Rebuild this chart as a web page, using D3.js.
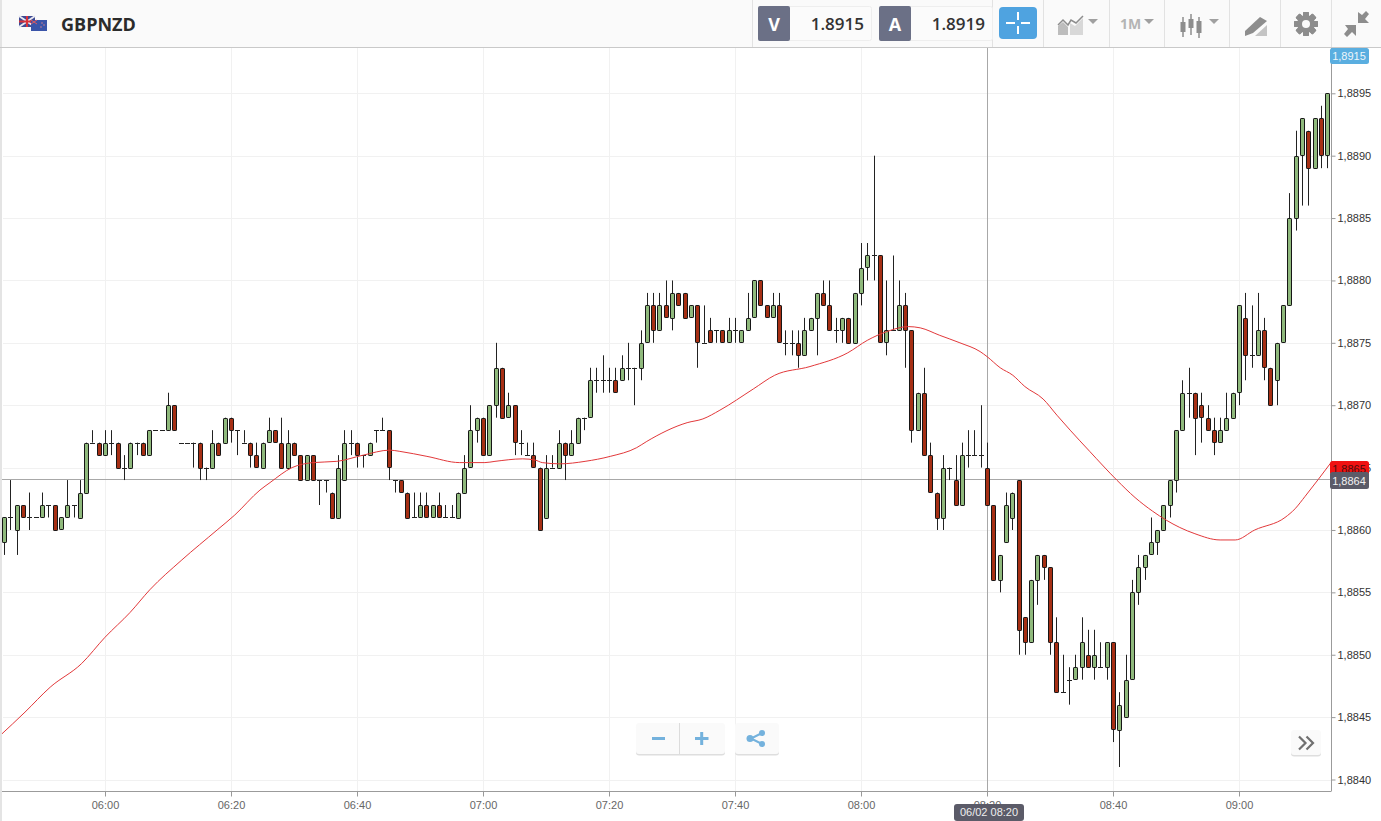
<!DOCTYPE html>
<html>
<head>
<meta charset="utf-8">
<title>GBPNZD</title>
<script src="https://cdnjs.cloudflare.com/ajax/libs/d3/7.8.5/d3.min.js"></script>
<style>
  html, body { margin: 0; padding: 0; background: #fff; overflow: hidden; }
  svg { display: block; }
  .price text { font: 11px "Liberation Sans", Arial, sans-serif; fill: #333; }
  .time text { font: 11px "Liberation Sans", Arial, sans-serif; fill: #666; }
</style>
</head>
<body>
<svg id="chart" width="1381" height="821"></svg>
<script>
// one candle per minute, first one at 05:44. prices are last 4 digits: 8859 = 1.8859
var firstCandle = new Date(2016, 1, 6, 5, 44);

var opens = [
  8859,8861,8860,8862,8861,8861,8861,8862,8862,8860,
  8861,8862,8861,8863,8867,8867,8866,8867,8867,8865,
  8865,8867,8867,8866,8868,8868,8868,8870,8867,8867,
  8867,8867,8865,8865,8867,8867,8869,8868,8867,8867,
  8866,8865,8867,8868,8867,8865,8867,8866,8864,8866,
  8864,8864,8863,8861,8864,8867,8867,8866,8866,8868,
  8868,8868,8864,8864,8863,8861,8861,8862,8861,8862,
  8861,8861,8861,8863,8865,8868,8869,8866,8870,8873,
  8869,8870,8867,8866,8866,8865,8861,8865,8865,8867,
  8866,8867,8869,8869,8872,8872,8872,8872,8872,8873,
  8873,8873,8875,8878,8876,8878,8877,8879,8879,8877,
  8878,8875,8876,8876,8876,8875,8876,8875,8876,8877,
  8880,8878,8877,8878,8875,8875,8875,8874,8876,8877,
  8879,8878,8876,8876,8877,8875,8879,8881,8882,8882,
  8875,8876,8876,8878,8876,8868,8871,8866,8863,8861,
  8865,8864,8862,8866,8866,8866,8865,8862,8856,8859,
  8861,8864,8853,8851,8856,8858,8857,8851,8847,8848,
  8848,8849,8850,8849,8849,8849,8851,8844,8845,8848,
  8855,8857,8858,8859,8860,8862,8864,8868,8871,8871,
  8870,8869,8868,8867,8868,8869,8871,8877,8874,8874,
  8876,8873,8872,8875,8878,8885,8890,8892,8889,8893,
  8890
];
var highs = [
  8861,8864,8862,8862,8863,8861,8863,8862,8862,8861,
  8864,8862,8864,8867,8868,8867,8868,8868,8867,8866,
  8867,8867,8867,8868,8868,8868,8871,8870,8867,8867,
  8867,8867,8865,8868,8867,8869,8869,8868,8868,8867,
  8867,8867,8869,8868,8869,8868,8867,8866,8866,8866,
  8864,8864,8863,8866,8868,8868,8867,8866,8867,8868,
  8869,8868,8864,8864,8863,8863,8863,8863,8862,8863,
  8862,8862,8863,8866,8870,8869,8869,8870,8875,8873,
  8871,8870,8868,8867,8867,8865,8866,8866,8868,8867,
  8868,8869,8869,8873,8873,8874,8873,8873,8874,8875,
  8873,8876,8879,8879,8879,8880,8880,8879,8879,8878,
  8878,8878,8877,8876,8876,8877,8877,8876,8879,8880,
  8880,8878,8879,8879,8876,8876,8876,8877,8877,8879,
  8880,8880,8877,8877,8877,8879,8883,8883,8890,8882,
  8880,8882,8880,8879,8876,8871,8873,8867,8863,8866,
  8865,8866,8867,8868,8868,8870,8867,8862,8858,8863,
  8863,8864,8853,8856,8858,8858,8857,8853,8850,8849,
  8850,8853,8852,8852,8851,8851,8851,8847,8850,8856,
  8858,8858,8861,8860,8862,8864,8868,8872,8873,8871,
  8871,8870,8869,8869,8871,8871,8878,8879,8878,8879,
  8877,8873,8875,8878,8887,8892,8893,8892,8893,8894,
  8895
];
var lows = [
  8858,8860,8858,8861,8860,8861,8861,8861,8860,8860,
  8861,8861,8861,8863,8867,8866,8866,8866,8865,8864,
  8865,8866,8866,8866,8868,8868,8868,8868,8867,8867,
  8865,8864,8864,8865,8866,8867,8867,8866,8867,8865,
  8865,8865,8867,8867,8865,8865,8866,8864,8864,8864,
  8862,8863,8861,8861,8864,8866,8865,8865,8866,8867,
  8868,8864,8863,8863,8861,8861,8861,8861,8861,8861,
  8861,8861,8861,8863,8865,8867,8866,8866,8869,8869,
  8869,8866,8866,8866,8865,8860,8861,8865,8865,8864,
  8866,8867,8868,8869,8871,8871,8871,8871,8872,8872,
  8870,8872,8875,8875,8876,8877,8876,8878,8877,8877,
  8873,8875,8875,8875,8875,8875,8875,8875,8876,8877,
  8878,8877,8877,8875,8874,8874,8873,8874,8876,8874,
  8878,8876,8875,8875,8875,8875,8878,8880,8880,8875,
  8874,8876,8876,8873,8867,8868,8866,8863,8860,8860,
  8864,8862,8862,8865,8866,8865,8862,8856,8855,8859,
  8860,8850,8850,8851,8854,8856,8850,8847,8847,8846,
  8848,8848,8849,8848,8849,8848,8843,8841,8845,8848,
  8854,8856,8858,8858,8860,8861,8863,8868,8869,8866,
  8867,8868,8866,8867,8868,8869,8870,8872,8873,8874,
  8872,8870,8870,8875,8878,8884,8886,8886,8889,8889,
  8889
];
var closes = [
  8861,8861,8862,8861,8861,8861,8862,8862,8860,8861,
  8862,8862,8863,8867,8867,8866,8867,8867,8865,8865,
  8867,8867,8866,8868,8868,8868,8870,8868,8867,8867,
  8867,8865,8865,8867,8866,8869,8868,8868,8867,8866,
  8865,8867,8868,8867,8865,8867,8866,8864,8866,8864,
  8864,8864,8861,8865,8867,8867,8866,8866,8867,8868,
  8868,8865,8864,8863,8861,8861,8862,8861,8862,8861,
  8861,8861,8863,8865,8868,8869,8866,8870,8873,8869,
  8870,8867,8867,8866,8865,8860,8865,8865,8867,8866,
  8867,8869,8869,8872,8872,8872,8872,8871,8873,8873,
  8873,8875,8878,8876,8878,8877,8879,8878,8877,8878,
  8875,8875,8875,8876,8875,8876,8876,8876,8877,8880,
  8878,8877,8878,8875,8875,8875,8874,8876,8877,8879,
  8878,8876,8876,8877,8875,8879,8881,8882,8882,8875,
  8876,8876,8878,8876,8868,8871,8866,8863,8861,8865,
  8865,8862,8866,8866,8866,8866,8862,8856,8858,8862,
  8863,8852,8851,8856,8858,8857,8851,8847,8847,8848,
  8849,8851,8849,8850,8849,8851,8844,8846,8848,8855,
  8857,8858,8859,8860,8862,8864,8868,8871,8871,8869,
  8869,8868,8867,8868,8869,8871,8878,8874,8874,8876,
  8873,8870,8875,8878,8885,8890,8893,8889,8893,8890,
  8895
];

var maMinutes = [-16.7,-12.7,-8.7,-3.7,0,4,7.1,12.2,17.8,20.6,24.6,26.2,29.7,33,36.8,41,45.2,46.8,51.1,56.3,60.3,61.9,66.3,68.3,69.4,72.2,76.2,80.2,84.4,86,92.4,94.9,97.6,102.9,106.3,111.9,117.9,121,124.1,127.5,129.4,132.5,135.7,138.9,140,142.1,144.1,146,148.9,151.1,153.2,156.3,160.6,163.5,166.3,170.6,173,177,179.4,182.5,187.3,188.9,190.5,194.6];
var maValues = [8843.5,8845.4,8847.4,8849.3,8851.4,8853.4,8855.2,8857.6,8860,8861.2,8863.2,8863.8,8865,8865.4,8865.5,8866,8866.4,8866.3,8865.9,8865.4,8865.4,8865.5,8865.7,8865.6,8865.4,8865.3,8865.5,8865.9,8866.6,8867.1,8868.6,8868.9,8869.6,8871.3,8872.4,8873.1,8874.2,8875.2,8875.9,8876.3,8876.2,8875.6,8875,8874.3,8873.9,8873,8872.4,8871.5,8870.5,8869.2,8868,8866.3,8864,8862.6,8861.5,8860.2,8859.7,8859.2,8859.2,8860,8861,8861.7,8862.7,8865.4];

var priceTicks = [8840,8845,8850,8855,8860,8865,8870,8875,8880,8885,8890,8895];
var timeTicks = ['06:00','06:20','06:40','07:00','07:20','07:40','08:00','08:20','08:40','09:00'];

var symbol = 'GBPNZD', sellPrice = '1.8915', buyPrice = '1.8919', period = '1M';
var lastPrice = 8915, maLast = 8865, crossPrice = 8864, crossTime = '08:20', crossStamp = '06/02 08:20';

var minute = 60000;
var atTime = function(hhmm) {
  var p = hhmm.split(':');
  return new Date(2016, 1, 6, +p[0], +p[1]);
};
var label = function(v) { return d3.format('.4f')(1 + v / 10000).replace('.', ','); };

var svg = d3.select('#chart');
var plotRight = 1331, plotTop = 48, plotBottom = 791;

var x = d3.scaleTime().domain([atTime('06:00'), atTime('09:00')]).range([105, 1239]);
var y = d3.scaleLinear().domain([8840, 8895]).range([779.5, 93.3]);

svg.append('clipPath').attr('id', 'plot').append('rect')
  .attr('x', 0).attr('y', plotTop).attr('width', plotRight).attr('height', plotBottom - plotTop);

// grid
var grid = svg.append('g').attr('stroke', '#f1f1f1').attr('shape-rendering', 'crispEdges');
grid.selectAll('.gy').data(priceTicks).enter().append('line')
  .attr('x1', 3).attr('x2', plotRight)
  .attr('y1', function(d) { return Math.round(y(d)) + 0.5; })
  .attr('y2', function(d) { return Math.round(y(d)) + 0.5; });
grid.selectAll('.gx').data(timeTicks).enter().append('line')
  .attr('y1', plotTop).attr('y2', plotBottom)
  .attr('x1', function(d) { return Math.round(x(atTime(d))) + 0.5; })
  .attr('x2', function(d) { return Math.round(x(atTime(d))) + 0.5; });

// crosshair
var crossX = Math.round(x(atTime(crossTime))) + 0.5;
var crossY = Math.round(y(crossPrice)) - 0.5;
svg.append('line').attr('x1', 0).attr('x2', plotRight).attr('y1', crossY).attr('y2', crossY)
  .attr('stroke', '#a8a8a8');
svg.append('line').attr('x1', crossX).attr('x2', crossX).attr('y1', plotTop).attr('y2', plotBottom)
  .attr('stroke', '#a8a8a8');

// candles
var candles = opens.map(function(o, i) {
  return { t: new Date(+firstCandle + i * minute), o: o, h: highs[i], l: lows[i], c: closes[i] };
});
var g = svg.append('g').attr('clip-path', 'url(#plot)');
var candle = g.selectAll('.candle').data(candles).enter().append('g').attr('class', 'candle');
candle.append('line')
  .attr('x1', function(d) { return Math.round(x(d.t)) + 0.5; })
  .attr('x2', function(d) { return Math.round(x(d.t)) + 0.5; })
  .attr('y1', function(d) { return y(d.h); })
  .attr('y2', function(d) { return y(d.l); })
  .attr('stroke', '#222');
candle.filter(function(d) { return d.o !== d.c; }).append('rect')
  .attr('x', function(d) { return Math.round(x(d.t)) - 1.5; })
  .attr('width', 4)
  .attr('y', function(d) { return Math.round(y(Math.max(d.o, d.c))) + 0.5; })
  .attr('height', function(d) { return Math.round(Math.abs(y(d.o) - y(d.c))); })
  .attr('rx', 0.6)
  .attr('fill', function(d) { return d.c > d.o ? '#8fb97c' : '#a62f14'; })
  .attr('stroke', '#161616');
candle.filter(function(d) { return d.o === d.c; }).append('line')
  .attr('x1', function(d) { return Math.round(x(d.t)) - 2; })
  .attr('x2', function(d) { return Math.round(x(d.t)) + 3; })
  .attr('y1', function(d) { return Math.round(y(d.o)) + 0.5; })
  .attr('y2', function(d) { return Math.round(y(d.o)) + 0.5; })
  .attr('stroke', '#222');

// moving average
var maLine = d3.line()
  .x(function(d) { return x(new Date(+atTime('06:00') + d * minute)); })
  .y(function(d, i) { return y(maValues[i]); })
  .curve(d3.curveMonotoneX);
g.append('path').datum(maMinutes).attr('d', maLine)
  .attr('fill', 'none').attr('stroke', '#e2383a').attr('stroke-width', 1);

// axes
var axisRight = d3.axisRight(y).tickValues(priceTicks).tickFormat(label).tickSize(4).tickPadding(2);
var priceAxis = svg.append('g').attr('class', 'price').attr('transform', 'translate(' + (plotRight + 0.5) + ',0)').call(axisRight);
priceAxis.select('.domain').remove();
priceAxis.selectAll('line').attr('stroke', '#999');
svg.append('line').attr('x1', plotRight + 0.5).attr('x2', plotRight + 0.5).attr('y1', plotTop).attr('y2', plotBottom + 0.5)
  .attr('stroke', '#9b9b9b');

var axisBottom = d3.axisBottom(x).tickValues(timeTicks.map(atTime)).tickFormat(d3.timeFormat('%H:%M')).tickSize(5).tickPadding(4.5);
var timeAxis = svg.append('g').attr('class', 'time').attr('transform', 'translate(0,' + (plotBottom + 0.5) + ')').call(axisBottom);
timeAxis.select('.domain').remove();
timeAxis.selectAll('line').attr('stroke', '#999');
svg.append('line').attr('x1', 0).attr('x2', plotRight).attr('y1', plotBottom + 0.5).attr('y2', plotBottom + 0.5)
  .attr('stroke', '#9b9b9b');

// price tags on the right
var tag = function(top, h, fill, v, color, baseline) {
  svg.append('rect').attr('x', plotRight - 1).attr('y', top).attr('width', 39).attr('height', h)
    .attr('rx', 2.5).attr('fill', fill);
  svg.append('text').attr('x', plotRight + 18).attr('y', baseline).attr('text-anchor', 'middle')
    .style('font', '11px "Liberation Sans", Arial, sans-serif').attr('fill', color).text(label(v));
};
tag(48, 16, '#5aaee0', lastPrice, '#eef6fb', 60);
tag(461, 14, '#f01212', maLast, '#4a0d0d', 473);
tag(472, 17, '#5b5b68', crossPrice, '#f2f2f2', 484.5);

// time stamp of the crosshair
svg.append('rect').attr('x', 954).attr('y', 804).attr('width', 70).attr('height', 17).attr('rx', 3).attr('fill', '#5b5b68');
svg.append('text').attr('x', 989).attr('y', 816).attr('text-anchor', 'middle')
  .style('font', '11px "Liberation Sans", Arial, sans-serif').attr('fill', '#eee').text(crossStamp);

// left edge and header
svg.append('rect').attr('x', 0).attr('y', 0).attr('width', 2).attr('height', 821).attr('fill', '#e4e4e4');
var head = svg.append('g');
head.append('rect').attr('x', 2).attr('y', 0).attr('width', 1379).attr('height', 47).attr('fill', '#fafafa');
head.append('line').attr('x1', 0).attr('x2', 1381).attr('y1', 47.5).attr('y2', 47.5).attr('stroke', '#c9c9c9');

// little flags
var flags = head.append('g');
flags.append('rect').attr('x', 19).attr('y', 16).attr('width', 16).attr('height', 11).attr('fill', '#3d4a94');
flags.append('path').attr('d', 'M19,16L35,27M35,16L19,27').attr('stroke', '#e8e8f0').attr('stroke-width', 2);
flags.append('path').attr('d', 'M27,16V27M19,21.5H35').attr('stroke', '#d8313a').attr('stroke-width', 2);
flags.append('rect').attr('x', 31).attr('y', 20).attr('width', 16).attr('height', 11).attr('fill', '#3a54a8');
flags.append('path').attr('d', 'M31,20L37,24M37,20L31,24').attr('stroke', '#e05a60').attr('stroke-width', 1);
flags.selectAll('.star').data([[42, 23], [44, 25], [41, 27]]).enter().append('circle')
  .attr('cx', function(d) { return d[0]; }).attr('cy', function(d) { return d[1]; }).attr('r', 0.7).attr('fill', '#e88');

head.append('text').attr('x', 61).attr('y', 31).text(symbol)
  .style('font', '700 18px "Open Sans", sans-serif').attr('fill', '#2b2b2b');

// separators
head.selectAll('.sep').data([752, 992, 1043, 1109, 1164, 1229, 1280, 1331]).enter().append('line')
  .attr('x1', function(d) { return d + 0.5; }).attr('x2', function(d) { return d + 0.5; })
  .attr('y1', 0).attr('y2', 47).attr('stroke', '#e2e2e2');

// quote boxes
var quote = function(bx, letter, val) {
  head.append('rect').attr('x', bx + 0.5).attr('y', 6.5).attr('width', 113).attr('height', 34).attr('rx', 2)
    .attr('fill', '#fbfbfb').attr('stroke', '#eeeeee');
  head.append('rect').attr('x', bx).attr('y', 6).attr('width', 32).attr('height', 35).attr('rx', 2).attr('fill', '#6b7086');
  head.append('text').attr('x', bx + 16).attr('y', 30.5).attr('text-anchor', 'middle').text(letter)
    .style('font', '700 18px "Open Sans", sans-serif').attr('fill', '#fff');
  head.append('text').attr('x', bx + 106).attr('y', 29.5).attr('text-anchor', 'end').text(val)
    .style('font', '600 17px "Open Sans", sans-serif').attr('fill', '#333');
};
quote(758, 'V', sellPrice);
quote(879, 'A', buyPrice);

// crosshair button
head.append('rect').attr('x', 999).attr('y', 7).attr('width', 38).attr('height', 32).attr('rx', 4).attr('fill', '#4fa3e0');
head.append('path').attr('d', 'M1006,23H1015M1021,23H1030M1018,12V20M1018,26V34')
  .attr('stroke', '#fff').attr('stroke-width', 2);

var iconGray = '#8d8d8d', iconPale = '#c4c4c4';
var caret = function(cx) {
  head.append('path').attr('d', 'M' + (cx - 5) + ',19H' + (cx + 5) + 'L' + cx + ',24Z').attr('fill', '#a0a0a0');
};
// chart type (area and line)
head.append('path').attr('d', 'M1058,35V26L1063,22L1068,27V35Z').attr('fill', '#bdbdbd');
head.append('path').attr('d', 'M1070,23L1075,26L1083,18V35H1070Z').attr('fill', '#d8d8d8');
head.append('path').attr('d', 'M1058,25L1063,20L1068,25L1071,20L1076,23L1083,16').attr('fill', 'none').attr('stroke', iconGray).attr('stroke-width', 1.5);
caret(1093);
// period
head.append('text').attr('x', 1120).attr('y', 29).text(period)
  .style('font', '700 14px "Open Sans", sans-serif').attr('fill', '#b4b4b4');
caret(1149);
// candle type
[[1183, 17, 37, 22, 32], [1191, 14, 35, 19, 28], [1199, 17, 38, 21, 33]].forEach(function(c) {
  head.append('line').attr('x1', c[0]).attr('x2', c[0]).attr('y1', c[1]).attr('y2', c[2]).attr('stroke', iconGray).attr('stroke-width', 1.5);
  head.append('rect').attr('x', c[0] - 2.5).attr('y', c[3]).attr('width', 5).attr('height', c[4] - c[3]).attr('fill', iconGray);
});
caret(1214);
// drawing tool
head.append('path').attr('d', 'M1245,31L1260,17L1267,21L1253,33L1245,36Z').attr('fill', iconGray);
head.append('path').attr('d', 'M1255,36L1267,25V36Z').attr('fill', iconPale);
// gear
var gearAngles = d3.range(0, 360, 45);
head.append('g').selectAll('rect').data(gearAngles).enter().append('rect')
  .attr('x', 1303).attr('y', 12).attr('width', 6).attr('height', 24).attr('rx', 1)
  .attr('transform', function(d) { return 'rotate(' + d + ' 1306 24)'; }).attr('fill', iconGray);
head.append('circle').attr('cx', 1306).attr('cy', 24).attr('r', 6.5).attr('fill', 'none').attr('stroke', iconGray).attr('stroke-width', 5);
head.append('circle').attr('cx', 1306).attr('cy', 24).attr('r', 4).attr('fill', '#fafafa');
// compress arrows
head.append('path').attr('d', 'M1358,12V23H1369L1365,19L1369,14L1366,11L1362,15Z').attr('fill', iconGray);
head.append('path').attr('d', 'M1345,25H1356V36L1352,32L1347,37L1344,34L1348,29Z').attr('fill', iconGray);

// floating buttons
var button = function(bx, by, w, h) {
  svg.append('rect').attr('x', bx).attr('y', by + 1.5).attr('width', w).attr('height', h).attr('rx', 3).attr('fill', '#dedede');
  svg.append('rect').attr('x', bx).attr('y', by).attr('width', w).attr('height', h).attr('rx', 3).attr('fill', '#fafafa');
};
var blue = '#74b2dd';
button(636, 723, 89, 31);
svg.append('line').attr('x1', 679.5).attr('x2', 679.5).attr('y1', 723).attr('y2', 754).attr('stroke', '#dcdcdc');
svg.append('path').attr('d', 'M652,738.5H665M695,738.5H708.5M701.7,732V745').attr('stroke', blue).attr('stroke-width', 3);
button(735, 723, 44, 31);
svg.append('path').attr('d', 'M762,733L751,738.5L762,744').attr('fill', 'none').attr('stroke', blue).attr('stroke-width', 2);
svg.selectAll('.share').data([[762, 733, 3], [750, 738.5, 3.5], [762, 744, 3]]).enter().append('circle')
  .attr('cx', function(d) { return d[0]; }).attr('cy', function(d) { return d[1]; }).attr('r', function(d) { return d[2]; }).attr('fill', blue);
button(1291, 730, 30, 25);
svg.append('path').attr('d', 'M1299,736.5L1305.5,743L1299,749.5M1306.5,736.5L1313,743L1306.5,749.5')
  .attr('fill', 'none').attr('stroke', '#707070').attr('stroke-width', 2.2);
</script>
</body>
</html>
